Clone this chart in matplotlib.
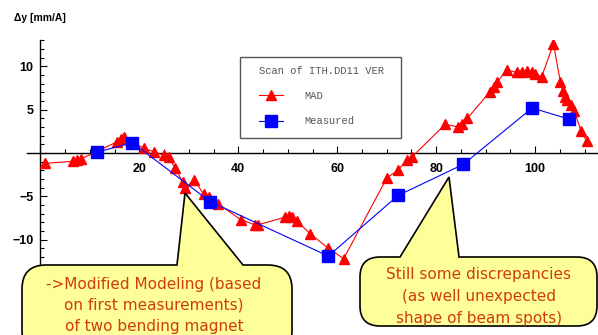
import matplotlib
matplotlib.use("Agg")
from matplotlib import pyplot as plt
from matplotlib.path import Path
from matplotlib.patches import PathPatch, Rectangle
from matplotlib.lines import Line2D
from matplotlib.ticker import MultipleLocator, FuncFormatter

# MAD model response (position along the line, dy per ampere)
mad_s = [1.0, 6.6, 7.5, 8.2, 15.5, 16.3, 16.9, 20.9, 22.9, 24.9, 25.9, 27.2,
         28.8, 29.3, 31.1, 33.0, 34.0, 36.0, 40.5, 43.4, 43.9, 49.5, 50.2,
         50.8, 51.9, 54.5, 58.2, 61.3, 70.0, 72.2, 74.1, 75.1, 81.8, 84.5,
         85.3, 86.3, 90.9, 91.6, 92.3, 94.3, 96.3, 97.4, 98.4, 99.3, 100.0,
         101.3, 103.7, 105.1, 105.6, 106.0, 106.5, 107.2, 107.9, 109.3, 110.4]
mad_dy = [-1.2, -0.95, -0.85, -0.7, 1.3, 1.6, 1.9, 0.55, 0.15, -0.25, -0.45,
          -1.7, -3.4, -4.0, -3.1, -4.75, -5.1, -5.9, -7.7, -8.3, -8.3, -7.4,
          -7.3, -7.4, -7.9, -9.3, -11.0, -12.2, -2.9, -2.0, -0.8, -0.45, 3.3,
          3.0, 3.3, 4.0, 7.1, 7.6, 8.2, 9.6, 9.3, 9.3, 9.5, 9.3, 9.1, 8.8,
          12.6, 8.2, 7.2, 6.5, 6.1, 5.5, 4.9, 2.5, 1.4]

# measured response
meas_s = [11.5, 18.6, 34.3, 58.2, 72.3, 85.5, 99.4, 106.9]
meas_dy = [0.1, 1.2, -5.6, -11.9, -4.9, -1.3, 5.2, 3.9]

W, H = 598, 335
fig = plt.figure(figsize=(W / 100, H / 100), dpi=100)
ax = fig.add_axes([27 / W, (H - 265) / H, (W - 27) / W, 225 / H])
ax.set_xlim(-2.7, 112.7)
ax.set_ylim(-12.93, 13.05)

ax.plot(mad_s, mad_dy, color="red", lw=0.8, marker="^", ms=7.5,
        mec="red", mfc="red", label="MAD", zorder=3)
ax.plot(meas_s, meas_dy, color="blue", lw=0.8, marker="s", ms=8.5,
        mec="blue", mfc="blue", label="Measured", zorder=4)

# axes crossing at the origin
for side in ("top", "right"):
    ax.spines[side].set_visible(False)
ax.spines["left"].set_position(("data", 0))
ax.spines["bottom"].set_position(("data", 0))
ax.spines["left"].set_linewidth(1.0)
ax.spines["bottom"].set_linewidth(1.0)
ax.patch.set_visible(False)

ax.xaxis.set_major_locator(MultipleLocator(20))
ax.xaxis.set_minor_locator(MultipleLocator(5))
ax.yaxis.set_major_locator(MultipleLocator(5))
ax.yaxis.set_minor_locator(MultipleLocator(1))
hide_zero = FuncFormatter(lambda v, p: "" if abs(v) < 1e-9 else f"{v:g}".replace("-", "\u2212"))
ax.xaxis.set_major_formatter(hide_zero)
ax.yaxis.set_major_formatter(hide_zero)
ax.tick_params(which="both", direction="in", width=0.8)
ax.tick_params(which="major", length=5)
ax.tick_params(which="minor", length=3)
ax.tick_params(axis="x", which="major", pad=7)
ax.tick_params(axis="y", which="major", pad=5)
for lab in ax.get_xticklabels() + ax.get_yticklabels():
    lab.set_fontfamily("Liberation Sans")
    lab.set_fontweight("bold")
    lab.set_fontsize(9)

fig.text(14 / W, 1 - 18 / H, "\u0394y [mm/A]", fontfamily="Liberation Sans",
         fontweight="bold", fontsize=7.5, va="center", ha="left")

# legend: frame drawn separately so the text can sit with its own margins
fig.add_artist(Rectangle((240 / W, 1 - 138 / H), 161 / W, 81 / H,
                         transform=fig.transFigure, facecolor="white",
                         edgecolor="#555555", lw=1.0, zorder=5))
mono = {"family": "Liberation Mono", "size": 7.5}
handles = [Line2D([], [], color="red", lw=0.8, marker="^", ms=7),
           Line2D([], [], color="blue", lw=0.8, marker="s", ms=8)]
leg = fig.legend(handles, ["MAD", "Measured"], title="Scan of ITH.DD11 VER",
                 loc="upper left", bbox_to_anchor=(259 / W, 1 - 66 / H),
                 bbox_transform=fig.transFigure, borderaxespad=0,
                 prop=mono, title_fontproperties=mono, alignment="left",
                 frameon=False, labelspacing=1.45, handlelength=2.3,
                 handletextpad=2.1, borderpad=0)
leg.set_zorder(6)
for t in leg.get_texts() + [leg.get_title()]:
    t.set_color("#555555")


def callout(x0, y0, x1, y1, r, ba, bb, tip):
    # rounded box (pixel coords, y downward) with a pointer on its top edge
    pts = [(x0 + r, y0), (ba, y0), tip, (bb, y0), (x1 - r, y0),
           (x1, y0), (x1, y0 + r), (x1, y1 - r),
           (x1, y1), (x1 - r, y1), (x0 + r, y1),
           (x0, y1), (x0, y1 - r), (x0, y0 + r),
           (x0, y0), (x0 + r, y0), (x0 + r, y0)]
    codes = [Path.MOVETO, Path.LINETO, Path.LINETO, Path.LINETO, Path.LINETO,
             Path.CURVE3, Path.CURVE3, Path.LINETO,
             Path.CURVE3, Path.CURVE3, Path.LINETO,
             Path.CURVE3, Path.CURVE3, Path.LINETO,
             Path.CURVE3, Path.CURVE3, Path.CLOSEPOLY]
    verts = [(x / W, 1 - y / H) for x, y in pts]
    patch = PathPatch(Path(verts, codes), facecolor="#ffff99",
                      edgecolor="black", lw=1.2, transform=fig.transFigure,
                      zorder=10)
    fig.add_artist(patch)


callout(22, 265, 292, 355, 24, 177, 243, (185, 193))
callout(360, 257, 597, 326, 20, 400, 459, (449, 177))

note = {"fontfamily": "DejaVu Sans", "fontsize": 11, "color": "#d03a10",
        "ha": "center", "va": "center", "zorder": 11}
for i, line in enumerate(["->Modified Modeling (based",
                          "on first measurements)",
                          "of two bending magnet"]):
    fig.text(154 / W, 1 - (284 + 21 * i) / H, line, **note)
for i, line in enumerate(["Still some discrepancies",
                          "(as well unexpected",
                          "shape of beam spots)"]):
    fig.text(479 / W, 1 - (275 + 21.5 * i) / H, line, **note)

fig.savefig("out.png", dpi=100)
